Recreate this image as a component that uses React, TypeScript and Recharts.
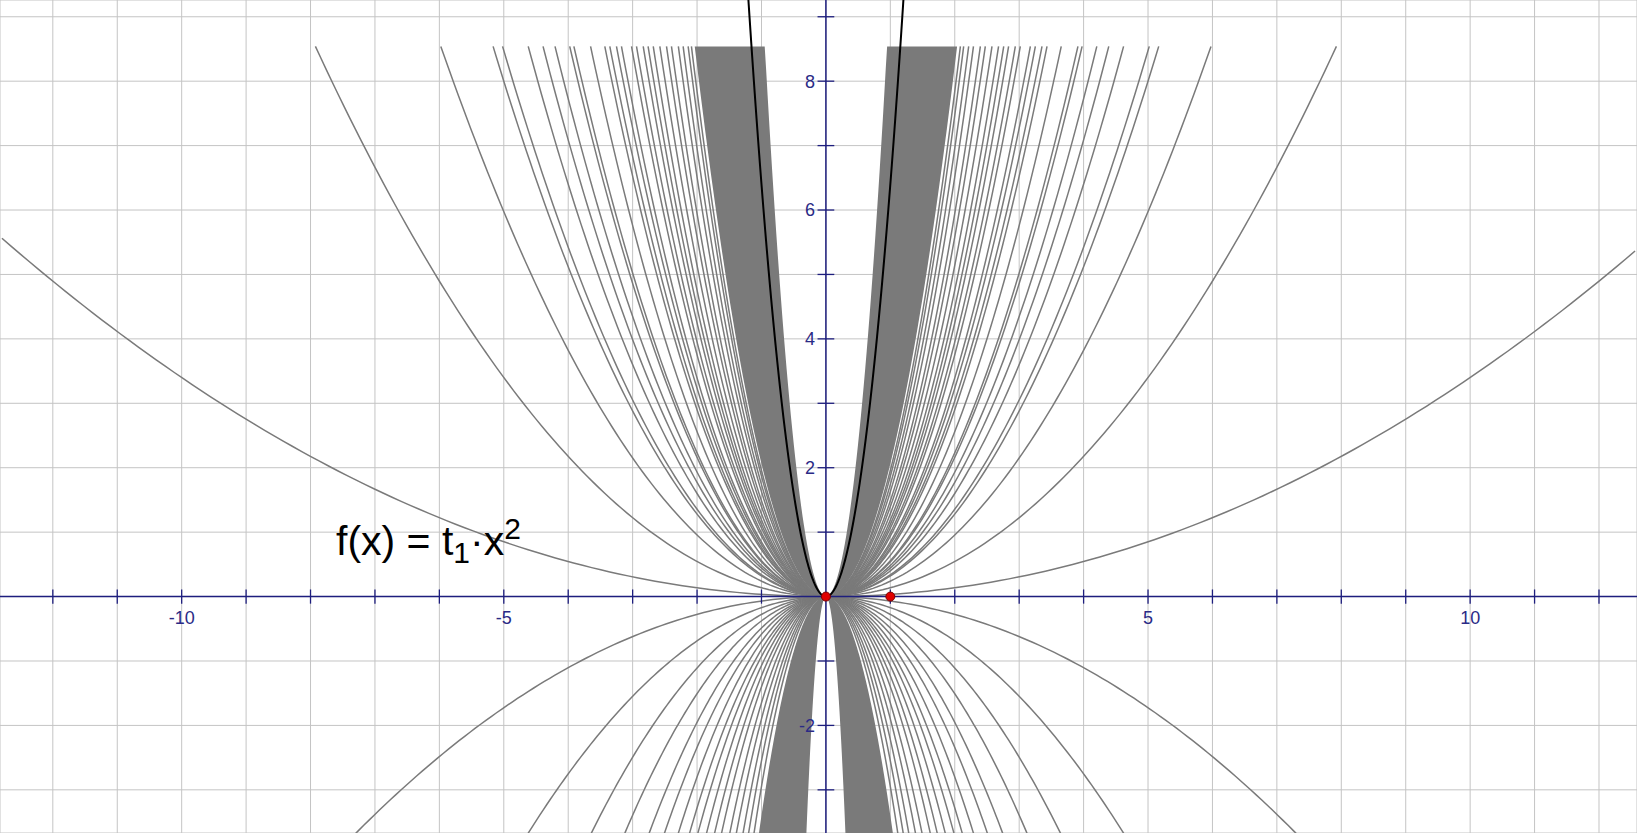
import React from 'react';
import { ComposedChart, Line, Area, XAxis, YAxis, CartesianGrid, ReferenceLine, ReferenceDot } from 'recharts';

// trace of f(x) = t·x² for the slider values that stay visible as single curves
const POS_T = [0.034, 0.136, 0.239, 0.32, 0.339, 0.4, 0.443, 0.483, 0.54, 0.558, 0.64, 0.725, 0.759, 0.808, 0.848, 0.938, 0.988, 1.062, 1.121, 1.189, 1.285, 1.395, 1.486, 1.628, 1.739, 1.868, 1.96];
const NEG_T = [-0.069, -0.172, -0.277, -0.377, -0.488, -0.585, -0.7, -0.82, -0.93, -1.07, -1.23, -1.4, -1.65, -1.9, -2.22, -2.55, -2.95];
// where the trace is so dense it is a solid band: [outer t, inner t]
const POS_BAND = [2.06, 9.5];
const NEG_BAND = [-3.4, -40];
const T1 = 6.4;
const MARKED = [{ x: 0, y: 0 }, { x: 1, y: 0 }];

const X_TICKS = [-12, -11, -10, -9, -8, -7, -6, -5, -4, -3, -2, -1, 0, 1, 2, 3, 4, 5, 6, 7, 8, 9, 10, 11, 12];
const Y_TICKS = [-3, -2, -1, 0, 1, 2, 3, 4, 5, 6, 7, 8, 9];
const X_LABELS = [-10, -5, 5, 10];
const Y_LABELS = [-2, 2, 4, 6, 8];

const X_DOMAIN: [number, number] = [-12.82, 12.59];
const Y_DOMAIN: [number, number] = [-3.67, 9.26];
const TRACE_TOP = 8.54;
const TRACE_BOTTOM = -3.8;

const AXIS = '#1e1e7e';
const GRAY = '#7a7a7a';
const N = 180;

function parabola(t: number) {
  const cap = t > 0 ? TRACE_TOP : TRACE_BOTTOM;
  const xm = Math.sqrt(cap / t);
  const lo = Math.max(-xm, X_DOMAIN[0] + 0.03);
  const hi = Math.min(xm, X_DOMAIN[1] - 0.03);
  const pts = [];
  for (let i = 0; i <= N; i++) {
    const x = lo + ((hi - lo) * i) / N;
    pts.push({ x, y: t * x * x });
  }
  return pts;
}

function band(outer: number, inner: number) {
  const cap = outer > 0 ? TRACE_TOP : TRACE_BOTTOM;
  const xm = Math.sqrt(cap / outer);
  const pts = [];
  for (let i = 0; i <= N; i++) {
    const x = -xm + (2 * xm * i) / N;
    const a = outer * x * x;
    const b = outer > 0 ? Math.min(inner * x * x, cap) : Math.max(inner * x * x, cap);
    pts.push({ x, range: [Math.min(a, b), Math.max(a, b)] });
  }
  return pts;
}

function blackCurve() {
  const xm = Math.sqrt(9.4 / T1);
  const pts = [];
  for (let i = 0; i <= N; i++) {
    const x = -xm + (2 * xm * i) / N;
    pts.push({ x, y: T1 * x * x });
  }
  return pts;
}

const labelStyle = { fill: '#2a2a86', fontSize: 18, fontFamily: 'Liberation Sans, Arial, sans-serif' };

export default function App() {
  return (
    <div style={{ position: 'fixed', left: 0, top: 0, width: 1637, height: 833, background: '#fff', overflow: 'hidden' }}>
      <ComposedChart width={1637} height={833} margin={{ top: 0, right: 0, bottom: 0, left: 0 }}>
        <CartesianGrid stroke="#c4c4c4" strokeWidth={1} />
        <XAxis type="number" dataKey="x" domain={X_DOMAIN} ticks={X_TICKS} allowDataOverflow hide />
        <YAxis type="number" domain={Y_DOMAIN} ticks={Y_TICKS} allowDataOverflow hide />

        <Area data={band(NEG_BAND[0], NEG_BAND[1])} dataKey="range" type="linear" stroke="none" fill={GRAY} fillOpacity={1} isAnimationActive={false} />
        <Area data={band(POS_BAND[0], POS_BAND[1])} dataKey="range" type="linear" stroke="none" fill={GRAY} fillOpacity={1} isAnimationActive={false} />

        {NEG_T.map((t) => (
          <Line key={`n${t}`} data={parabola(t)} dataKey="y" type="linear" stroke={GRAY} strokeWidth={1.5} dot={false} activeDot={false} isAnimationActive={false} />
        ))}
        {POS_T.map((t) => (
          <Line key={`p${t}`} data={parabola(t)} dataKey="y" type="linear" stroke={GRAY} strokeWidth={1.5} dot={false} activeDot={false} isAnimationActive={false} />
        ))}
        <Line data={blackCurve()} dataKey="y" type="linear" stroke="#000" strokeWidth={2} dot={false} activeDot={false} isAnimationActive={false} />

        <ReferenceLine y={0} stroke={AXIS} strokeWidth={1.5} />
        <ReferenceLine x={0} stroke={AXIS} strokeWidth={1.5} />
        {X_TICKS.filter((v) => v !== 0).map((v) => (
          <ReferenceLine key={`xt${v}`} segment={[{ x: v, y: -0.11 }, { x: v, y: 0.11 }]} stroke={AXIS} strokeWidth={1.3} />
        ))}
        {Y_TICKS.filter((v) => v !== 0).map((v) => (
          <ReferenceLine key={`yt${v}`} segment={[{ x: -0.13, y: v }, { x: 0.13, y: v }]} stroke={AXIS} strokeWidth={1.3} />
        ))}
        {X_LABELS.map((v) => (
          <ReferenceDot key={`xl${v}`} x={v} y={0} r={0} stroke="none" fill="none"
            label={{ value: String(v), position: 'bottom', offset: 15, ...labelStyle }} />
        ))}
        {Y_LABELS.map((v) => (
          <ReferenceDot key={`yl${v}`} x={0} y={v} r={0} stroke="none" fill="none"
            label={{ value: String(v), position: 'left', offset: 11, ...labelStyle }} />
        ))}
        {MARKED.map((p) => (
          <ReferenceDot key={`m${p.x}`} x={p.x} y={p.y} r={4.5} fill="#e00000" stroke="#7a0000" strokeWidth={1} />
        ))}
      </ComposedChart>

      <svg width={1637} height={833} style={{ position: 'absolute', left: 0, top: 0, pointerEvents: 'none' }}>
        <text x={336} y={555} fontFamily="Liberation Sans, Arial, sans-serif" fontSize={41} fill="#000">
          f(x) = t
          <tspan fontSize={30} dy={8}>1</tspan>
          <tspan dy={-8}>·x</tspan>
          <tspan fontSize={30} dy={-16}>2</tspan>
        </text>
      </svg>
    </div>
  );
}
